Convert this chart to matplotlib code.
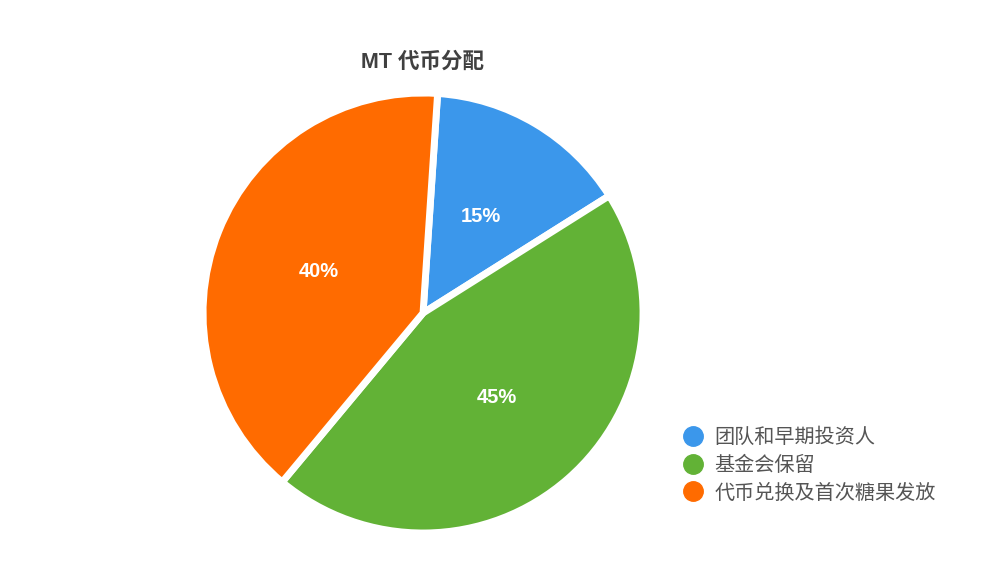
import matplotlib.pyplot as plt
from matplotlib.lines import Line2D

plt.rcParams['font.family'] = ['Liberation Sans', 'Noto Sans CJK SC', 'DejaVu Sans']

# DATA
title = "MT 代币分配"
labels = ["团队和早期投资人", "基金会保留", "代币兑换及首次糖果发放"]
shares = [15, 45, 40]
colors = ["#3B97EB", "#62B236", "#FF6B00"]

# FIGURE
fig = plt.figure(figsize=(9.89, 5.86), dpi=100)
ax = fig.add_axes([0.2053, 0.0904, 0.4449, 0.7509])

wedges, texts, autotexts = ax.pie(
    shares,
    colors=colors,
    startangle=86.2,
    counterclock=False,
    radius=1.0,
    autopct="%d%%",
    pctdistance=0.51,
    wedgeprops=dict(edgecolor="white", linewidth=5),
    textprops=dict(color="white", fontsize=14.5, fontweight="bold"),
)
ax.set_xlim(-1, 1)
ax.set_ylim(-1, 1)
ax.set_aspect("equal")
ax.axis("off")

fig.text(0.4277, 0.894, title, ha="center", va="center",
         fontsize=15.5, fontweight="bold", color="#404040")

# LEGEND
handles = [Line2D([0], [0], marker="o", linestyle="none", markersize=14,
                  markerfacecolor=c, markeredgecolor=c) for c in colors]
fig.legend(handles, labels, loc="upper left", bbox_to_anchor=(0.691, 0.270),
           frameon=False, fontsize=14.5, labelcolor="#555555",
           handlelength=1.0, handletextpad=0.55, labelspacing=0.42,
           borderpad=0, borderaxespad=0)

fig.savefig("out.png", dpi=100)
